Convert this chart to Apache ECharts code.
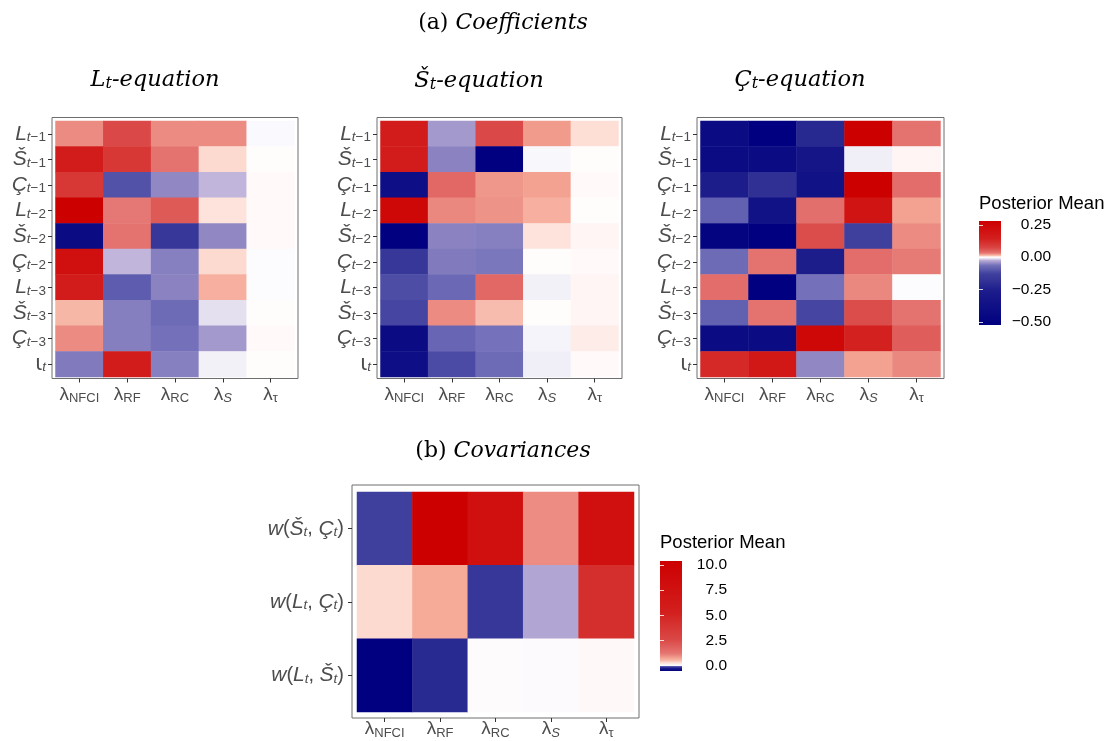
<!DOCTYPE html>
<html>
<head>
<meta charset="utf-8">
<script src="https://cdn.jsdelivr.net/npm/echarts@6/dist/echarts.min.js"></script>
<style>
	html, body { margin: 0; padding: 0; background: #fff; }
	#chart { width: 1110px; height: 741px; }
</style>
</head>
<body>
<div id="chart"></div>
<script>
// columns, shared by every panel
const lambdas = ["NFCI", "RF", "RC", "S", "tau"];
// rows of the coefficient panels, top to bottom
const coefRows = ["L1", "S1", "C1", "L2", "S2", "C2", "L3", "S3", "C3", "iota"];
// rows of the covariance panel, top to bottom
const covRows = ["wSC", "wLC", "wLS"];

// posterior means, one row per regressor
const lEq = [
	[0.026, 0.070, 0.026, 0.026, -0.002],
	[0.158, 0.099, 0.034, 0.008, 0.0005],
	[0.099, -0.104, -0.048, -0.023, 0.001],
	[0.280, 0.032, 0.055, 0.006, 0.001],
	[-0.427, 0.034, -0.164, -0.048, 0.001],
	[0.210, -0.023, -0.053, 0.008, -0.001],
	[0.158, -0.090, -0.051, 0.016, -0.001],
	[0.014, -0.054, -0.070, -0.011, 0.0005],
	[0.026, -0.054, -0.063, -0.037, 0.001],
	[-0.056, 0.158, -0.053, -0.005, 0.0005],
];
const sEq = [
	[0.158, -0.037, 0.070, 0.022, 0.007],
	[0.158, -0.051, -0.525, -0.003, 0.0005],
	[-0.394, 0.043, 0.023, 0.020, 0.001],
	[0.245, 0.027, 0.024, 0.016, 0.0005],
	[-0.525, -0.051, -0.053, 0.006, 0.002],
	[-0.164, -0.056, -0.059, 0.0005, 0.001],
	[-0.111, -0.073, 0.043, -0.005, 0.002],
	[-0.121, 0.026, 0.013, 0.0005, 0.002],
	[-0.427, -0.077, -0.062, -0.004, 0.004],
	[-0.394, -0.114, -0.070, -0.006, 0.001],
];
const cEq = [
	[-0.427, -0.525, -0.219, 0.280, 0.034],
	[-0.427, -0.427, -0.330, -0.006, 0.002],
	[-0.263, -0.197, -0.361, 0.280, 0.039],
	[-0.084, -0.361, 0.037, 0.193, 0.020],
	[-0.492, -0.525, 0.066, -0.131, 0.026],
	[-0.070, 0.034, -0.263, 0.039, 0.031],
	[0.039, -0.525, -0.063, 0.027, -0.001],
	[-0.084, 0.034, -0.121, 0.066, 0.034],
	[-0.427, -0.427, 0.245, 0.140, 0.052],
	[0.128, 0.175, -0.048, 0.020, 0.027],
];
const cov = [
	[-0.138, 10.4, 7.8, 0.957, 7.8],
	[0.297, 0.666, -0.172, -0.031, 4.33],
	[-0.55, -0.229, 0.015, 0.01, 0.045],
];

// colour bar ranges and ticks
const coefRange = [-0.525, 0.28];
const coefTicks = [-0.5, -0.25, 0, 0.25];
const covRange = [-0.55, 10.4];
const covTicks = [0, 2.5, 5, 7.5, 10];

const FONT = "Liberation Sans";
const SERIF = "DejaVu Serif";
const GREY = "#4D4D4D";

// colour scale: white in the middle, navy / red3 at the ends
const redStops = [[0, [255, 255, 255]], [0.2, [252, 218, 208]], [0.4, [246, 170, 152]], [0.5, [236, 140, 130]],
	[0.6, [228, 115, 112]], [0.8, [218, 72, 70]], [0.9, [212, 40, 38]], [1, [205, 0, 0]]];
const blueStops = [[0, [255, 255, 255]], [0.15, [228, 224, 240]], [0.3, [195, 182, 220]], [0.5, [145, 135, 195]],
	[0.6, [115, 112, 185]], [0.75, [75, 75, 165]], [0.85, [50, 50, 150]], [0.95, [18, 18, 135]], [1, [0, 0, 128]]];
const bend = [[0, 0], [0.05, 0.35], [0.12, 0.6], [0.25, 0.8], [0.5, 0.92], [1, 1]];

function interp(stops, t) {
	for (let i = 1; i < stops.length; i++) {
		if (t <= stops[i][0]) {
			const a = stops[i - 1], b = stops[i];
			const k = (t - a[0]) / (b[0] - a[0]);
			if (Array.isArray(a[1])) return a[1].map((x, j) => x + (b[1][j] - x) * k);
			return a[1] + (b[1] - a[1]) * k;
		}
	}
	return stops[stops.length - 1][1];
}
function shade(v, lo, hi) {
	const f = v >= 0 ? Math.min(v / hi, 1) : Math.min(v / lo, 1);
	const rgb = interp(v >= 0 ? redStops : blueStops, interp(bend, f));
	return "rgb(" + rgb.map(Math.round).join(",") + ")";
}
function ramp(range, n) {
	const out = [];
	for (let i = 0; i <= n; i++) out.push(shade(range[0] + (range[1] - range[0]) * i / n, range[0], range[1]));
	return out;
}
function barFill(range) {
	const cols = ramp(range, 400);
	return {
		type: "linear", x: 0, y: 1, x2: 0, y2: 0,
		colorStops: cols.map((c, i) => ({ offset: i / 400, color: c })),
	};
}

// axis label markup
const sub = { fontFamily: FONT, color: GREY, fontSize: 13.5, lineHeight: 14, padding: [7, 0, 0, 0] };
const yRich = {
	i: { fontFamily: FONT, color: GREY, fontSize: 21, lineHeight: 24, fontStyle: "italic" },
	u: { fontFamily: FONT, color: GREY, fontSize: 20, lineHeight: 24 },
	g: { fontFamily: "DejaVu Sans", color: GREY, fontSize: 21, lineHeight: 24 },
	si: Object.assign({}, sub, { fontStyle: "italic" }),
	s: sub,
};
const xRich = {
	l: { fontFamily: FONT, color: GREY, fontSize: 19, lineHeight: 22 },
	s: Object.assign({}, sub, { fontSize: 13, padding: [8, 0, 0, 0] }),
	si: Object.assign({}, sub, { fontSize: 13, padding: [8, 0, 0, 0], fontStyle: "italic" }),
};
const lamText = {
	NFCI: "{l|λ}{s|NFCI}", RF: "{l|λ}{s|RF}", RC: "{l|λ}{s|RC}", S: "{l|λ}{si|S}", tau: "{l|λ}{s|τ}",
};
const rowText = {
	L1: "{i|L}{si|t}{s|−1}", S1: "{i|Š}{si|t}{s|−1}", C1: "{i|Ç}{si|t}{s|−1}",
	L2: "{i|L}{si|t}{s|−2}", S2: "{i|Š}{si|t}{s|−2}", C2: "{i|Ç}{si|t}{s|−2}",
	L3: "{i|L}{si|t}{s|−3}", S3: "{i|Š}{si|t}{s|−3}", C3: "{i|Ç}{si|t}{s|−3}",
	iota: "{g|ι}{si|t}",
	wSC: "{i|w}{u|(}{i|Š}{si|t}{u|, }{i|Ç}{si|t}{u|)}",
	wLC: "{i|w}{u|(}{i|L}{si|t}{u|, }{i|Ç}{si|t}{u|)}",
	wLS: "{i|w}{u|(}{i|L}{si|t}{u|, }{i|Š}{si|t}{u|)}",
};

// tile areas and their frames
const tiles = [
	{ left: 55.5, top: 121, width: 239, height: 256 },
	{ left: 380.5, top: 121, width: 238, height: 256 },
	{ left: 700.5, top: 121, width: 240, height: 256 },
	{ left: 357, top: 492, width: 277, height: 220 },
];
const frames = [
	{ left: 52, top: 117.5, width: 246, height: 261 },
	{ left: 377, top: 117.5, width: 245, height: 261 },
	{ left: 697, top: 117.5, width: 247, height: 261 },
	{ left: 352, top: 485, width: 287, height: 233 },
];
const panelRows = [coefRows, coefRows, coefRows, covRows];
const panelData = [lEq, sEq, cEq, cov];

const grids = [];
const xAxes = [];
const yAxes = [];
const series = [];

tiles.forEach((t, k) => {
	grids.push(Object.assign({ show: false, containLabel: false }, t));
	const fr = frames[k];
	xAxes.push({
		type: "category", gridIndex: k, data: lambdas, position: "bottom",
		offset: fr.top + fr.height - (t.top + t.height),
		axisLine: { show: false },
		axisTick: { show: true, alignWithLabel: true, interval: 0, length: 4, lineStyle: { color: "#333" } },
		axisLabel: { interval: 0, margin: k === 3 ? 0 : 5, formatter: (v) => lamText[v], rich: xRich },
		splitLine: { show: false },
	});
	yAxes.push({
		type: "category", gridIndex: k, data: panelRows[k], inverse: true,
		offset: t.left - fr.left,
		axisLine: { show: false },
		axisTick: { show: true, alignWithLabel: true, interval: 0, length: 4, lineStyle: { color: "#333" } },
		axisLabel: { interval: 0, margin: k === 3 ? 8 : 6, formatter: (v) => rowText[v], rich: yRich },
		splitLine: { show: false },
	});
	const cells = [];
	panelData[k].forEach((row, r) => row.forEach((v, c) => cells.push([c, r, v])));
	series.push({
		type: "heatmap", xAxisIndex: k, yAxisIndex: k, data: cells,
		itemStyle: { borderWidth: 0 }, emphasis: { disabled: true },
	});
});

// frames (grid borders only)
frames.forEach((f) => {
	grids.push(Object.assign({ show: true, borderColor: "#6E6E6E", borderWidth: 1, backgroundColor: "transparent" }, f));
});

// colour bars: a grid filled with the gradient, and an axis for the ticks
function colourBar(box, range, ticks, digits, margin) {
	const g = grids.length;
	grids.push(Object.assign({ show: true, borderWidth: 0, backgroundColor: barFill(range) }, box));
	xAxes.push({ type: "value", gridIndex: g, show: false });
	const fmt = (v) => (v < 0 ? "−" : "") + Math.abs(v).toFixed(digits);
	yAxes.push({
		type: "value", gridIndex: g, min: range[0], max: range[1], position: "right",
		axisLine: { show: false }, splitLine: { show: false },
		axisTick: { show: true, inside: true, length: 4, customValues: ticks, lineStyle: { color: "rgba(255,255,255,0.8)" } },
		axisLabel: { customValues: ticks, formatter: fmt, align: "right", margin: margin, fontFamily: FONT, fontSize: 15.5, color: "#000" },
	});
	yAxes.push({
		type: "value", gridIndex: g, min: range[0], max: range[1], position: "left",
		axisLine: { show: false }, splitLine: { show: false }, axisLabel: { show: false },
		axisTick: { show: true, inside: true, length: 4, customValues: ticks, lineStyle: { color: "rgba(255,255,255,0.8)" } },
	});
}
colourBar({ left: 979, top: 221, width: 22, height: 104 }, coefRange, coefTicks, 2, 50);
colourBar({ left: 660, top: 561, width: 22, height: 110 }, covRange, covTicks, 1, 45);

const serifRich = {
	r: { fontFamily: SERIF, fontSize: 22, fill: "#000", color: "#000" },
	it: { fontFamily: SERIF, fontSize: 22, fontStyle: "italic", fill: "#000", color: "#000" },
};
const subRich = {
	i: { fontFamily: SERIF, fontSize: 22.5, fontStyle: "italic", fill: "#000", color: "#000", lineHeight: 26 },
	s: { fontFamily: SERIF, fontSize: 16, fontStyle: "italic", fill: "#000", color: "#000", lineHeight: 16, padding: [8, 0, 0, 0] },
};
function label(x, y, text, rich, align) {
	return {
		type: "text", x: x, y: y, silent: true,
		style: { text: text, rich: rich, align: align || "center", textAlign: align || "center", verticalAlign: "middle", textVerticalAlign: "middle" },
	};
}
const legendTitle = { t: { fontFamily: FONT, fontSize: 18.5, fill: "#000", color: "#000" } };

const chart = echarts.init(document.getElementById("chart"), null, { renderer: "canvas" });
chart.setOption({
	animation: false,
	backgroundColor: "#fff",
	grid: grids,
	xAxis: xAxes,
	yAxis: yAxes,
	visualMap: [
		{ show: false, seriesIndex: [0, 1, 2], min: coefRange[0], max: coefRange[1], inRange: { color: ramp(coefRange, 400) } },
		{ show: false, seriesIndex: [3], min: covRange[0], max: covRange[1], inRange: { color: ramp(covRange, 400) } },
	],
	series: series,
	graphic: {
		elements: [
			label(503, 23, "{r|(a) }{it|Coefficients}", serifRich),
			label(503, 451, "{r|(b) }{it|Covariances}", serifRich),
			label(155, 80, "{i|L}{s|t}{i|-equation}", subRich),
			label(479, 81, "{i|Š}{s|t}{i|-equation}", subRich),
			label(800, 80, "{i|Ç}{s|t}{i|-equation}", subRich),
			label(979, 204, "{t|Posterior Mean}", legendTitle, "left"),
			label(660, 543, "{t|Posterior Mean}", legendTitle, "left"),
		],
	},
});
</script>
</body>
</html>
